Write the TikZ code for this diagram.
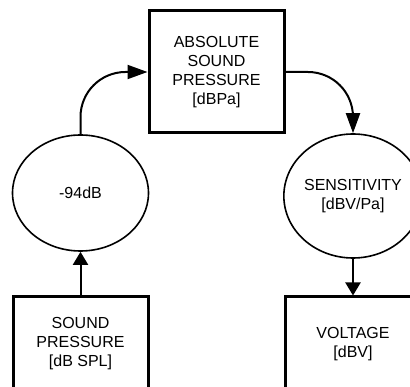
\documentclass[tikz,border=0pt]{standalone}
\usepackage{fontspec}
\setmainfont{Liberation Sans}
\usetikzlibrary{arrows.meta,shapes.geometric}
\tikzset{
  blockbox/.style={draw, line width=3pt, rectangle, inner sep=0pt, align=center,
    font=\fontsize{16}{19}\selectfont},
  gainell/.style={draw, line width=1.6pt, ellipse, inner sep=0pt, align=center,
    font=\fontsize{16}{19}\selectfont},
  sarrow/.style={line width=2pt, -{Triangle[length=13pt,width=15pt]}},
  carrow/.style={line width=2pt, -{Triangle[length=20pt,width=14pt]}}
}
\begin{document}
\begin{tikzpicture}[x=1pt,y=-1pt]
\useasboundingbox (0,0) rectangle (410,387);
\clip (0,0) rectangle (410,387);
\node[blockbox, minimum width=135pt, minimum height=122pt] (abs) at (216.5,72)
  {ABSOLUTE\\SOUND\\PRESSURE\\{[dBPa]}};
\node[gainell, minimum width=136pt, minimum height=116pt] (m94) at (80.5,193) {-94dB};
\node[gainell, minimum width=136pt, minimum height=124pt] (sens) at (353,196)
  {SENSITIVITY\\{[dBV/Pa]}};
\node[blockbox, minimum width=135pt, minimum height=94pt] (sp) at (80.5,344)
  {SOUND\\PRESSURE\\{[dB SPL]}};
\node[blockbox, minimum width=135pt, minimum height=94pt] (volt) at (353,344)
  {VOLTAGE\\{[dBV]}};
\draw[sarrow] (sp.north) -- (m94.south);
\draw[carrow, rounded corners=45pt] (m94.north) |- (abs.west);
\draw[carrow, rounded corners=45pt] (abs.east) -| (sens.north);
\draw[sarrow] (sens.south) -- (volt.north);
\end{tikzpicture}
\end{document}
